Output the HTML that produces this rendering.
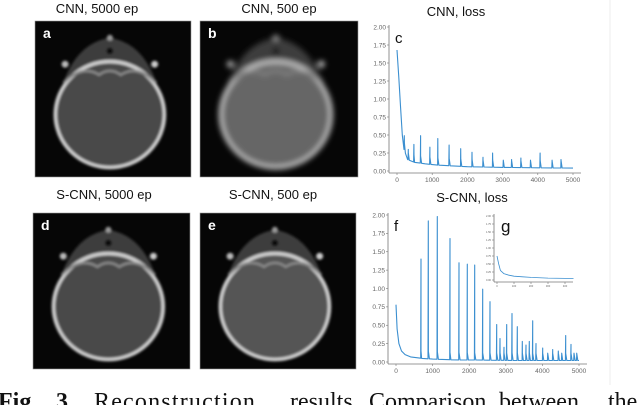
<!DOCTYPE html>
<html><head><meta charset="utf-8">
<style>
html,body{margin:0;padding:0;background:#fff;}
#root{position:relative;width:640px;height:405px;overflow:hidden;font-family:"Liberation Sans",sans-serif;}
.t{position:absolute;font-size:13px;color:#111;white-space:nowrap;transform:translateX(-50%);}
.cap{position:absolute;top:388px;font-family:"Liberation Serif",serif;font-size:24px;line-height:28px;color:#111;white-space:nowrap;}
</style></head><body>
<div id="root">
<svg id="img" width="640" height="405" style="position:absolute;left:0;top:0">
<defs>
<filter id="bl" x="-20%" y="-20%" width="140%" height="140%"><feGaussianBlur stdDeviation="1.4"/></filter>
<filter id="bl2" x="-20%" y="-20%" width="140%" height="140%"><feGaussianBlur stdDeviation="3"/></filter>
</defs>
<line x1="610" y1="0" x2="610" y2="385" stroke="#eee" stroke-width="1"/>
</svg>
<div class="t" style="left:97px;top:1px">CNN, 5000 ep</div>
<div class="t" style="left:279px;top:1px">CNN, 500 ep</div>
<div class="t" style="left:456px;top:4px">CNN, loss</div>
<div class="t" style="left:104px;top:187px">S-CNN, 5000 ep</div>
<div class="t" style="left:273px;top:187px">S-CNN, 500 ep</div>
<div class="t" style="left:472px;top:190px">S-CNN, loss</div>
<div class="cap" style="left:-2px;font-weight:bold">Fig.</div>
<div class="cap" style="left:56px;font-weight:bold">3.</div>
<div class="cap" style="left:94px;letter-spacing:1.2px">Reconstruction</div>
<div class="cap" style="left:290px">results.</div>
<div class="cap" style="left:369px">Comparison</div>
<div class="cap" style="left:499px">between</div>
<div class="cap" style="left:608px">the</div>
</div>
<script>
// ---- chart data ----
const cnnBaseEpochs=[0,50,100,150,200,300,500,800,1200,2000,3000,4000,5000];
const cnnBaseValues=[1.68,1.3,0.9,0.5,0.3,0.16,0.12,0.1,0.08,0.06,0.05,0.045,0.04];
const cnnSpikeEpochs=[208,320,481,670,934,1160,1481,1811,2132,2443,2717,3019,3255,3519,3792,4066,4406,4660];
const cnnSpikeValues=[0.49,0.3,0.37,0.49,0.33,0.45,0.36,0.31,0.26,0.19,0.25,0.15,0.16,0.18,0.15,0.25,0.15,0.16];
const scnnBaseEpochs=[0,30,80,150,250,400,700,1000,1500,2500,3500,5000];
const scnnBaseValues=[0.78,0.45,0.25,0.15,0.1,0.07,0.05,0.04,0.03,0.025,0.02,0.02];
const scnnSpikeEpochs=[683,883,1129,1475,1721,1948,2150,2368,2568,2751,2842,2951,3024,3170,3315,3452,3552,3643,3734,3825,4007,4144,4281,4435,4526,4636,4781,4863,4936];
const scnnSpikeValues=[1.40,1.92,1.98,1.68,1.35,1.33,1.32,0.99,0.82,0.51,0.32,0.2,0.51,0.66,0.48,0.28,0.23,0.28,0.56,0.25,0.19,0.11,0.17,0.15,0.1,0.36,0.24,0.12,0.08];
const insetEpochs=[0,10,20,40,70,100,150,200,300,400,450];
const insetValues=[0.75,0.5,0.3,0.2,0.15,0.12,0.1,0.08,0.06,0.05,0.05];
const yTicks=[0,0.25,0.5,0.75,1.0,1.25,1.5,1.75,2.0];
const xTicks=[0,1000,2000,3000,4000,5000];
const insetXTicks=[0,100,200,300,400];

const svg=document.getElementById('img');
const NS='http://www.w3.org/2000/svg';
function mk(tag,attrs,parent){const e=document.createElementNS(NS,tag);for(const k in attrs)e.setAttribute(k,attrs[k]);(parent||svg).appendChild(e);return e;}

// ---- CT panels ----
function panel(x,y,w,h,letter,interior,sharp,name){
  const g=mk('g',{});
  
  
  mk('rect',{x:x,y:y,width:w,height:h,fill:'#060606',stroke:'#999','stroke-width':0.6},g);
  const inner=mk('g',{filter:sharp?'url(#bl)':'url(#bl2)'},g);
  const cx=x+w*0.48, cy=y+h*0.6, rx=w*0.35, ry=h*0.34;
  mk('path',{d:`M${cx-rx*0.85} ${cy-ry*0.6} Q${cx-rx*0.6} ${cy-ry*1.35} ${cx} ${cy-ry*1.45} Q${cx+rx*0.6} ${cy-ry*1.35} ${cx+rx*0.85} ${cy-ry*0.6} Z`,fill:'#3e3e3e'},inner);
  mk('ellipse',{cx:cx,cy:cy,rx:rx,ry:ry,fill:interior},inner);
  mk('ellipse',{cx:cx,cy:cy,rx:rx,ry:ry,fill:'none',stroke:'#d0d0d0','stroke-width':3.5},inner);
  mk('path',{d:`M${cx-rx*0.85} ${cy-ry*0.6} Q${cx-rx*0.5} ${cy-ry*0.95} ${cx-rx*0.2} ${cy-ry*0.75} Q${cx} ${cy-ry*0.9} ${cx+rx*0.2} ${cy-ry*0.75} Q${cx+rx*0.5} ${cy-ry*0.95} ${cx+rx*0.85} ${cy-ry*0.6}`,fill:'none',stroke:'#888','stroke-width':2.5},inner);
  mk('circle',{cx:cx-rx*0.82,cy:cy-ry*0.95,r:3.5,fill:'#bbb'},inner);
  mk('circle',{cx:cx+rx*0.82,cy:cy-ry*0.95,r:3.5,fill:'#ccc'},inner);
  mk('circle',{cx:cx,cy:cy-ry*1.45,r:3,fill:'#999'},inner);
  mk('circle',{cx:cx,cy:cy-ry*1.2,r:3.5,fill:'#111'},inner);
  const t=mk('text',{x:x+8,y:y+17,fill:'#fff','font-size':14,'font-weight':'bold','font-family':'Liberation Sans, sans-serif'},g);
  t.textContent=letter;
}
panel(35,21,156,156,'a','#4a4a4a',true,'panel-a-cnn-5000');
panel(200,21,158,156,'b','#666',false,'panel-b-cnn-500');
panel(33,213,157,156,'d','#4a4a4a',true,'panel-d-scnn-5000');
panel(200,213,156,156,'e','#555',true,'panel-e-scnn-500');

// ---- line charts ----
function chart(o){
  const g=mk('g',{});
  
  
  const X=v=>o.x0+(v-0)/o.xmax*(o.x1-o.x0);
  const Y=v=>o.y0-(v/2)*(o.y0-o.y2);
  const fs=o.fs;
  mk('line',{x1:o.ax,y1:o.y2-2,x2:o.ax,y2:o.y0+2,stroke:'#777','stroke-width':0.8},g);
  mk('line',{x1:o.ax,y1:o.y0+2,x2:o.x1+8,y2:o.y0+2,stroke:'#777','stroke-width':0.8},g);
  yTicks.forEach(v=>{
    mk('line',{x1:o.ax-2,y1:Y(v),x2:o.ax,y2:Y(v),stroke:'#777','stroke-width':0.6},g);
    const t=mk('text',{x:o.ax-3,y:Y(v)+fs*0.35,'text-anchor':'end','font-size':fs,fill:'#666','font-family':'Liberation Sans, sans-serif'},g);
    
    
    t.textContent=v.toFixed(2);
  });
  o.xt.forEach(v=>{
    mk('line',{x1:X(v),y1:o.y0+2,x2:X(v),y2:o.y0+4,stroke:'#777','stroke-width':0.6},g);
    const t=mk('text',{x:X(v),y:o.y0+4+fs*1.1,'text-anchor':'middle','font-size':fs,fill:'#666','font-family':'Liberation Sans, sans-serif'},g);
    
    
    t.textContent=v;
  });
  const base=e=>{const E=o.be,V=o.bv;for(let i=1;i<E.length;i++){if(e<=E[i]){const f=(e-E[i-1])/(E[i]-E[i-1]);return V[i-1]+f*(V[i]-V[i-1]);}}return V[V.length-1];};
  const pts=[];
  o.be.forEach((e,i)=>pts.push([e,o.bv[i]]));
  (o.se||[]).forEach((e,i)=>{pts.push([e-8,base(e-8)]);pts.push([e,o.sv[i]]);pts.push([e+1,base(e)+0.1]);pts.push([e+30,base(e+30)]);});
  pts.sort((a,b)=>a[0]-b[0]);
  const d=pts.map((p,i)=>(i?'L':'M')+X(p[0]).toFixed(1)+' '+Y(p[1]).toFixed(1)).join(' ');
  const p=mk('path',{d:d,fill:'none',stroke:'#3b8fd0','stroke-width':o.sw,'stroke-linejoin':'round'},g);
  
  
  if(o.letter){const t=mk('text',{x:o.ax+6,y:o.y2+16,'font-size':15,fill:'#111','font-family':'Liberation Sans, sans-serif'},g);t.textContent=o.letter;}
  return g;
}
chart({name:'cnn-loss-chart',ax:389,x0:397,x1:573,xmax:5000,y0:171,y2:27,fs:6.5,xt:xTicks,be:cnnBaseEpochs,bv:cnnBaseValues,se:cnnSpikeEpochs,sv:cnnSpikeValues,sw:1.1,letter:'c'});
chart({name:'scnn-loss-chart',ax:388,x0:396,x1:579,xmax:5000,y0:362,y2:215,fs:6.5,xt:xTicks,be:scnnBaseEpochs,bv:scnnBaseValues,se:scnnSpikeEpochs,sv:scnnSpikeValues,sw:1.1,letter:'f'});
chart({name:'scnn-inset-chart',ax:494,x0:497,x1:565,xmax:400,y0:280,y2:216,fs:2.6,xt:insetXTicks,be:insetEpochs,bv:insetValues,se:[],sv:[],sw:0.8,letter:null});
const gl=mk('text',{x:501,y:232,'font-size':17,fill:'#111','font-family':'Liberation Sans, sans-serif'});


gl.textContent='g';
</script>
</body></html>
